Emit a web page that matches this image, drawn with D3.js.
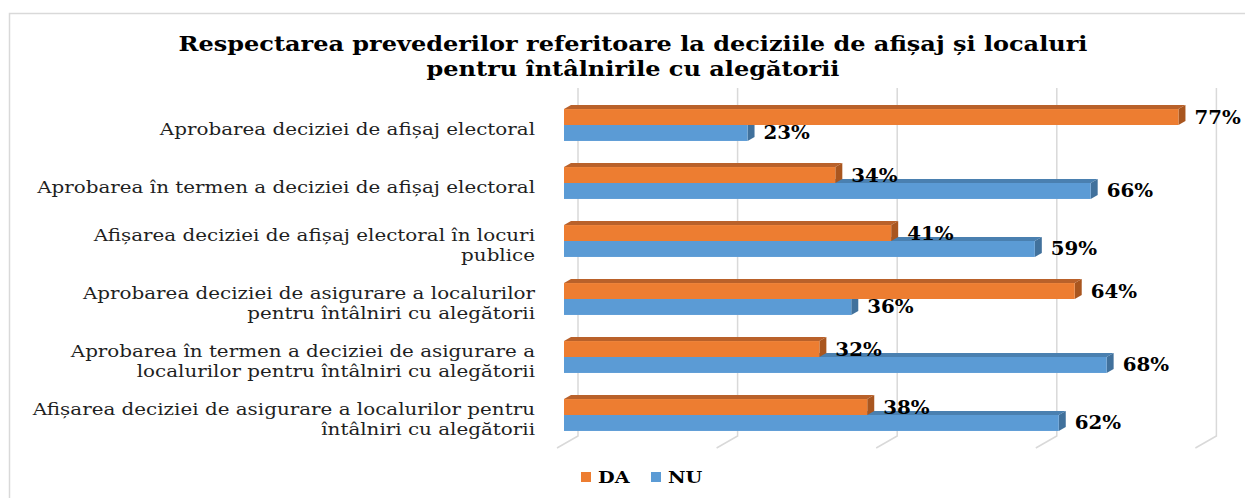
<!DOCTYPE html>
<html>
<head>
<meta charset="utf-8">
<script src="https://cdn.jsdelivr.net/npm/d3@7"></script>
<style>
  body { margin: 0; background: #ffffff; }
  svg { display: block; font-family: "DejaVu Serif", serif; }
</style>
</head>
<body>
<svg id="chart" width="1245" height="498"></svg>
<script>
// categories, one entry per row (line breaks as in the original)
var categories = [
    "Aprobarea deciziei de afișaj electoral",
    "Aprobarea în termen a deciziei de afișaj electoral",
    "Afișarea deciziei de afișaj electoral în locuri\npublice",
    "Aprobarea deciziei de asigurare a localurilor\npentru întâlniri cu alegătorii",
    "Aprobarea în termen a deciziei de asigurare a\nlocalurilor pentru întâlniri cu alegătorii",
    "Afișarea deciziei de asigurare a localurilor pentru\nîntâlniri cu alegătorii"
];
var seriesNames = ["DA", "NU"];
var daValues = [77, 34, 41, 64, 32, 38];
var nuValues = [23, 66, 59, 36, 68, 62];
var gridTicks = [0, 20, 40, 60, 80];
var titleLines = [
    "Respectarea prevederilor referitoare la deciziile de afișaj și localuri",
    "pentru întâlnirile cu alegătorii"
];

var colors = {
    DA: { front: "#ED7D31", top: "#B9612A", side: "#A9561F" },
    NU: { front: "#5B9BD5", top: "#4A80B0", side: "#41719C" }
};

// the original text is drawn a bit wider than it is tall
var stretch = 1.17;

var svg = d3.select("#chart");

// outer chart border
svg.append("rect")
    .attr("x", 9.5).attr("y", 13.5)
    .attr("width", 1245).attr("height", 500)
    .attr("fill", "none")
    .attr("stroke", "#D9D9D9")
    .attr("stroke-width", 1.5);

// title
svg.append("text")
    .attr("transform", "translate(633,51) scale(1.2,1)")
    .attr("text-anchor", "middle")
    .style("font-size", "20px")
    .style("font-weight", "bold")
    .style("fill", "#000000")
    .selectAll("tspan")
    .data(titleLines)
    .enter().append("tspan")
    .attr("x", 0)
    .attr("y", function(d, i) { return i * 25; })
    .text(function(d) { return d; });

// 3d depth offsets (bar front -> bar back, bar front -> back wall)
var barDx = 7, barDy = -4;
var wallDx = 14, wallDy = -8;
var floorDx = -7, floorDy = 4;

var x = d3.scaleLinear().domain([0, 80]).range([564, 1202.4]);
var y = d3.scaleBand().domain(categories).range([96, 444]).paddingInner(0.45).paddingOuter(0.225);
var ySeries = d3.scaleBand().domain(seriesNames).range([0, y.bandwidth()]);

// gridlines on back wall, then slanting across the floor
var grid = svg.append("g").attr("class", "grid");
grid.selectAll("path")
    .data(gridTicks)
    .enter().append("path")
    .attr("d", function(d) {
        var xb = x(d) + wallDx;
        var top = y.range()[0] + wallDy;
        var bottom = y.range()[1] + wallDy;
        return "M" + xb + "," + top + "L" + xb + "," + bottom +
            "L" + (x(d) + floorDx) + "," + (y.range()[1] + floorDy);
    })
    .attr("fill", "none")
    .attr("stroke", "#D9D9D9")
    .attr("stroke-width", 1.5);

// one row of bar data per category and series
var rows = [];
categories.forEach(function(c, i) {
    rows.push({ cat: c, series: "NU", value: nuValues[i] });
    rows.push({ cat: c, series: "DA", value: daValues[i] });
});

var bars = svg.append("g").attr("class", "bars")
    .selectAll("g")
    .data(rows)
    .enter().append("g");

// top face
bars.append("path")
    .attr("d", function(d) {
        var x0 = x(0), x1 = x(d.value);
        var y0 = y(d.cat) + ySeries(d.series);
        return "M" + x0 + "," + y0 + "L" + (x0 + barDx) + "," + (y0 + barDy) +
            "L" + (x1 + barDx) + "," + (y0 + barDy) + "L" + x1 + "," + y0 + "Z";
    })
    .attr("fill", function(d) { return colors[d.series].top; });

// side face
bars.append("path")
    .attr("d", function(d) {
        var x1 = x(d.value);
        var y0 = y(d.cat) + ySeries(d.series);
        var y1 = y0 + ySeries.bandwidth();
        return "M" + x1 + "," + y0 + "L" + (x1 + barDx) + "," + (y0 + barDy) +
            "L" + (x1 + barDx) + "," + (y1 + barDy) + "L" + x1 + "," + y1 + "Z";
    })
    .attr("fill", function(d) { return colors[d.series].side; });

// front face
bars.append("rect")
    .attr("x", x(0))
    .attr("y", function(d) { return y(d.cat) + ySeries(d.series); })
    .attr("width", function(d) { return x(d.value) - x(0); })
    .attr("height", ySeries.bandwidth())
    .attr("fill", function(d) { return colors[d.series].front; });

// value labels
svg.append("g").attr("class", "values")
    .selectAll("text")
    .data(rows)
    .enter().append("text")
    .attr("transform", function(d) {
        return "translate(" + (x(d.value) + 16) + "," +
            (y(d.cat) + ySeries(d.series) + ySeries.bandwidth() / 2) + ") scale(1.1,1)";
    })
    .attr("dy", "0.36em")
    .style("font-size", "18px")
    .style("font-weight", "bold")
    .style("fill", "#000000")
    .text(function(d) { return d.value + "%"; });

// category labels
var labels = svg.append("g").attr("class", "labels")
    .selectAll("text")
    .data(categories)
    .enter().append("text")
    .attr("transform", function(d) {
        return "translate(535," + (y(d) + y.bandwidth() / 2 + 4) + ") scale(" + stretch + ",1)";
    })
    .attr("text-anchor", "end")
    .style("font-size", "17px")
    .style("fill", "#1f1f1f");

labels.each(function(d) {
    var lines = d.split("\n");
    var lh = 20;
    var start = -(lines.length - 1) * lh / 2;
    d3.select(this).selectAll("tspan")
        .data(lines)
        .enter().append("tspan")
        .attr("x", 0)
        .attr("y", function(l, i) { return start + i * lh; })
        .attr("dy", "0.35em")
        .text(function(l) { return l; });
});

// legend
var legend = svg.append("g").attr("class", "legend")
    .selectAll("g")
    .data(seriesNames)
    .enter().append("g")
    .attr("transform", function(d, i) { return "translate(" + (581 + i * 70) + ",472)"; });

legend.append("rect")
    .attr("width", 10).attr("height", 10)
    .attr("fill", function(d) { return colors[d].front; });

legend.append("text")
    .attr("transform", "translate(17,5) scale(1.2,1)")
    .attr("dy", "0.36em")
    .style("font-size", "16px")
    .style("font-weight", "bold")
    .style("fill", "#000000")
    .text(function(d) { return d; });
</script>
</body>
</html>
